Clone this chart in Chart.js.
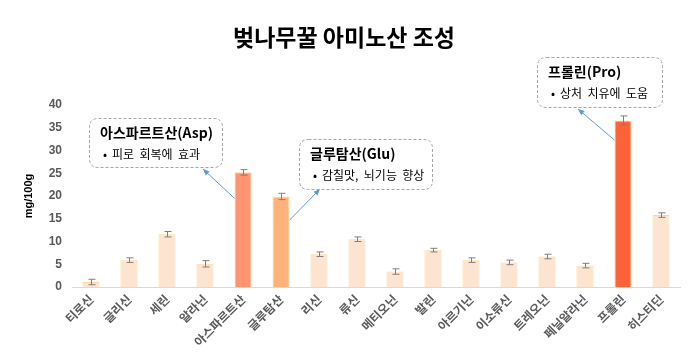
<!DOCTYPE html>
<html><head><meta charset="utf-8">
<script src="https://cdn.jsdelivr.net/npm/chart.js@4/dist/chart.umd.min.js"></script>
<style>html,body{margin:0;padding:0;background:#fff;}#wrap{width:695px;height:355px;position:relative;}</style>
</head><body><div id="wrap"><canvas id="c" width="695" height="355"></canvas></div>
<script>
const categories = ['티로신','글리신','세린','알라닌','아스파르트산','글루탐산','리신','류신','메티오닌','발린','아르기닌','이소류신','트레오닌','페닐알라닌','프롤린','히스티딘'];
const values = [1.1, 5.9, 11.6, 5.1, 25.2, 19.9, 7.2, 10.5, 3.4, 8.1, 5.9, 5.4, 6.7, 4.7, 36.6, 15.8];
const errors = [0.6, 0.5, 0.6, 0.7, 0.6, 0.7, 0.5, 0.5, 0.6, 0.4, 0.5, 0.5, 0.5, 0.5, 1.0, 0.5];
const yTicks = [0, 5, 10, 15, 20, 25, 30, 35, 40];
const titleText = '벚나무꿀 아미노산 조성';
const yTitle = 'mg/100g';
const callouts = [
  {index: 4, title: '아스파르트산(Asp)', note: '피로 회복에 효과', from: 19.5, side: 'left', box: [89,118,133,49], tip: [203,169]},
  {index: 5, title: '글루탐산(Glu)', note: '감칠맛, 뇌기능 향상', from: 14.7, side: 'right', box: [299,139,133,50], tip: [320,189]},
  {index: 14, title: '프롤린(Pro)', note: '상처 치유에 도움', from: 32.3, side: 'left', box: [537,57,125,50], tip: [578,109]}
];

const baseFill = '#FDE4D0', baseBorder = '#FFD79C';
const fills = values.map((v,i)=> i===4 ? '#FF9473' : i===5 ? '#FFB27A' : i===14 ? '#FF6236' : baseFill);
const borders = values.map(()=> baseBorder);
const KR = '"Noto Sans CJK KR", "Noto Sans", sans-serif';

const errPlugin = {
  id: 'errbars',
  afterDatasetsDraw(chart){
    const ctx = chart.ctx, meta = chart.getDatasetMeta(0), y = chart.scales.y;
    ctx.save(); ctx.strokeStyle = '#7F7F7F'; ctx.lineWidth = 1;
    meta.data.forEach((bar,i)=>{
      const x = Math.round(bar.x)+0.5;
      const y1 = y.getPixelForValue(values[i]+errors[i]), y2 = y.getPixelForValue(values[i]-errors[i]);
      ctx.beginPath();
      ctx.moveTo(x,y1); ctx.lineTo(x,y2);
      ctx.moveTo(x-3,y1); ctx.lineTo(x+4,y1);
      ctx.moveTo(x-3,y2); ctx.lineTo(x+4,y2);
      ctx.stroke();
    });
    ctx.restore();
  }
};

function roundRect(ctx,x,y,w,h,r){
  ctx.beginPath();
  ctx.moveTo(x+r,y); ctx.lineTo(x+w-r,y); ctx.quadraticCurveTo(x+w,y,x+w,y+r);
  ctx.lineTo(x+w,y+h-r); ctx.quadraticCurveTo(x+w,y+h,x+w-r,y+h);
  ctx.lineTo(x+r,y+h); ctx.quadraticCurveTo(x,y+h,x,y+h-r);
  ctx.lineTo(x,y+r); ctx.quadraticCurveTo(x,y,x+r,y); ctx.closePath();
}

const annoPlugin = {
  id: 'anno',
  afterDraw(chart){
    const ctx = chart.ctx, meta = chart.getDatasetMeta(0), ys = chart.scales.y;
    ctx.save();
    ctx.fillStyle = '#000'; ctx.font = 'bold 23px ' + KR;
    ctx.textAlign = 'center'; ctx.textBaseline = 'middle';
    ctx.fillText(titleText, 344, 37);
    callouts.forEach(c=>{
      const bar = meta.data[c.index];
      const half = bar.width/2;
      const sx = c.side==='left' ? bar.x - half : bar.x + half;
      const sy = ys.getPixelForValue(c.from);
      const [tx,ty] = c.tip;
      ctx.strokeStyle = '#5B9BD5'; ctx.fillStyle = '#5B9BD5'; ctx.lineWidth = 1;
      ctx.beginPath(); ctx.moveTo(sx,sy); ctx.lineTo(tx,ty); ctx.stroke();
      const ang = Math.atan2(ty-sy, tx-sx), L = 7, W = 0.4;
      ctx.beginPath(); ctx.moveTo(tx,ty);
      ctx.lineTo(tx - L*Math.cos(ang-W), ty - L*Math.sin(ang-W));
      ctx.lineTo(tx - L*Math.cos(ang+W), ty - L*Math.sin(ang+W));
      ctx.closePath(); ctx.fill();
      const [bx,by,bw,bh] = c.box;
      roundRect(ctx,bx+0.5,by+0.5,bw,bh,9);
      ctx.fillStyle = '#fff'; ctx.fill();
      ctx.setLineDash([3,2]); ctx.strokeStyle = '#A6A6A6'; ctx.stroke(); ctx.setLineDash([]);
      ctx.fillStyle = '#000'; ctx.textAlign = 'left'; ctx.textBaseline = 'middle';
      ctx.font = 'bold 14px ' + KR;
      ctx.fillText(c.title, bx+11, by+15);
      ctx.font = '12px ' + KR;
      ctx.fillText('•', bx+14, by+36);
      ctx.fillText(c.note.split(' ').join('  '), bx+23, by+36);
    });
    ctx.restore();
  }
};

new Chart(document.getElementById('c'), {
  type: 'bar',
  data: { labels: categories, datasets: [{ data: values, backgroundColor: fills, borderColor: borders, borderWidth: 1, barPercentage: 0.9, categoryPercentage: 0.5 }] },
  options: {
    responsive: false, animation: false,
    layout: { padding: { top: 105, left: 22, right: 15, bottom: 0 } },
    plugins: { legend: { display: false }, tooltip: { enabled: false }, title: { display: false } },
    scales: {
      x: {
        grid: { display: false, drawTicks: false },
        border: { color: '#D9D9D9' },
        ticks: { color: '#595959', font: { family: KR, size: 12, weight: 'bold' }, minRotation: 45, maxRotation: 45, padding: 5, autoSkip: false },
        afterFit(s){ s.height = 68; }
      },
      y: {
        min: 0, max: 40,
        grid: { display: false, drawTicks: false },
        border: { display: false },
        afterBuildTicks(s){ s.ticks = yTicks.map(v=>({value:v})); },
        ticks: { color: '#595959', font: { family: '"Liberation Sans", Arial, sans-serif', size: 12, weight: 'bold' }, padding: 10 },
        title: { display: true, text: yTitle, color: '#000', font: { family: '"Liberation Sans", Arial, sans-serif', size: 11, weight: 'bold' }, padding: {top:0,bottom:0} },
        afterFit(s){ s.width = 50; }
      }
    }
  },
  plugins: [errPlugin, annoPlugin]
});
</script></body></html>
